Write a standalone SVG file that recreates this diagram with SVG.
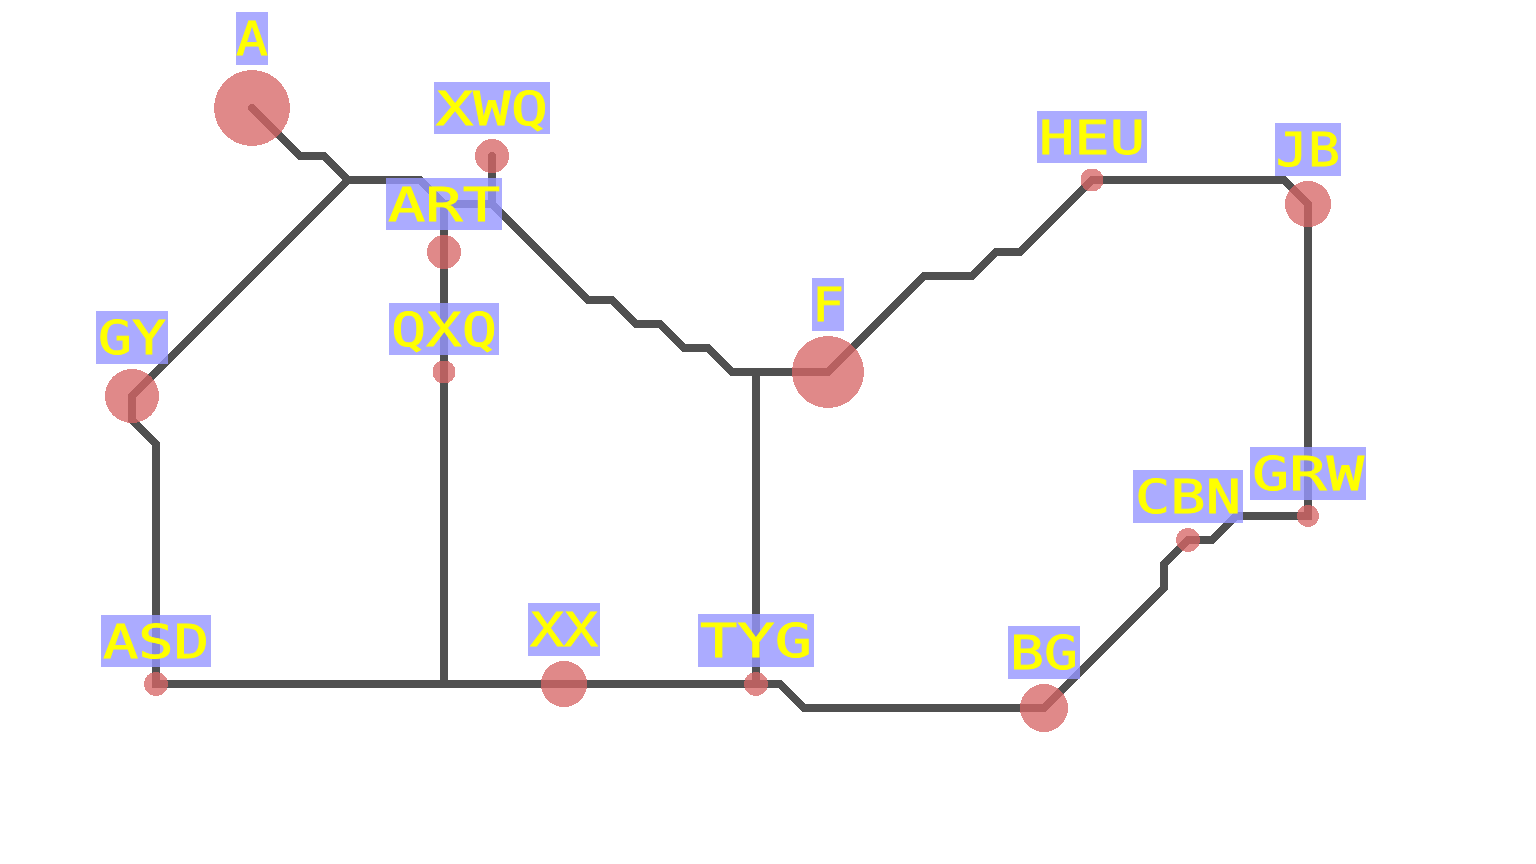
<svg xmlns="http://www.w3.org/2000/svg" width="1536" height="864" viewBox="0 0 1536 864">
<style>
.bg{fill:#fff}
#connectors path{fill:none;stroke:#505050;stroke-width:8;stroke-linecap:round;stroke-linejoin:miter;shape-rendering:crispEdges}
circle{fill:#d76565;fill-opacity:.77;shape-rendering:crispEdges}
rect.l{fill:#9696ff;fill-opacity:.8;shape-rendering:crispEdges}
text{font-family:"DejaVu Sans Mono","Liberation Mono",monospace;font-size:46px;fill:#ffff00;stroke:#ffff00;stroke-width:.8px}
</style>
<rect class="bg" width="1536" height="864"/>
<g id="connectors">
<path d="M252 108L300 156H324L348 180"/>
<path d="M132 396L348 180H420L444 204H492L588 300H612L636 324H660L684 348H708L732 372H828"/>
<path d="M492 156V204"/>
<path d="M444 204V684"/>
<path d="M756 372V684"/>
<path d="M828 372L924 276H972L996 252H1020L1092 180H1284L1308 204V516H1236L1212 540H1188L1164 564V588L1044 708H804L780 684H156V444L132 420V396"/>
</g>
<g id="A"><circle cx="252" cy="108" r="38"/><rect class="l" x="236" y="12" width="32" height="53"/><text x="236" y="55" textLength="32" lengthAdjust="spacingAndGlyphs">A</text></g>
<g id="XWQ"><circle cx="492" cy="156" r="17"/><rect class="l" x="434" y="82" width="116" height="52"/><text x="436" y="125" textLength="112" lengthAdjust="spacingAndGlyphs">XWQ</text></g>
<g id="ART"><circle cx="444" cy="252" r="17"/><rect class="l" x="386" y="178" width="116" height="52"/><text x="388" y="221" textLength="112" lengthAdjust="spacingAndGlyphs">ART</text></g>
<g id="QXQ"><circle cx="444" cy="372" r="11.5"/><rect class="l" x="389" y="303" width="110" height="52"/><text x="391" y="346" textLength="106" lengthAdjust="spacingAndGlyphs">QXQ</text></g>
<g id="GY"><circle cx="132" cy="396" r="27"/><rect class="l" x="96" y="311" width="72" height="53"/><text x="98" y="354" textLength="68" lengthAdjust="spacingAndGlyphs">GY</text></g>
<g id="F"><circle cx="828" cy="372" r="36"/><rect class="l" x="812" y="278" width="32" height="53"/><text x="812" y="321" textLength="32" lengthAdjust="spacingAndGlyphs">F</text></g>
<g id="HEU"><circle cx="1092" cy="180" r="11.5"/><rect class="l" x="1037" y="111" width="110" height="52"/><text x="1039" y="154" textLength="106" lengthAdjust="spacingAndGlyphs">HEU</text></g>
<g id="JB"><circle cx="1308" cy="204" r="23"/><rect class="l" x="1275" y="123" width="66" height="53"/><text x="1276" y="166" textLength="64" lengthAdjust="spacingAndGlyphs">JB</text></g>
<g id="GRW"><circle cx="1308" cy="516" r="11"/><rect class="l" x="1250" y="447" width="116" height="53"/><text x="1252" y="490" textLength="112" lengthAdjust="spacingAndGlyphs">GRW</text></g>
<g id="CBN"><circle cx="1188" cy="540" r="12"/><rect class="l" x="1133" y="470" width="110" height="53"/><text x="1135" y="513" textLength="106" lengthAdjust="spacingAndGlyphs">CBN</text></g>
<g id="ASD"><circle cx="156" cy="684" r="12"/><rect class="l" x="101" y="615" width="110" height="52"/><text x="103" y="658" textLength="106" lengthAdjust="spacingAndGlyphs">ASD</text></g>
<g id="XX"><circle cx="564" cy="684" r="23"/><rect class="l" x="528" y="603" width="72" height="53"/><text x="530" y="646" textLength="68" lengthAdjust="spacingAndGlyphs">XX</text></g>
<g id="TYG"><circle cx="756" cy="684" r="12"/><rect class="l" x="698" y="614" width="116" height="53"/><text x="700" y="657" textLength="112" lengthAdjust="spacingAndGlyphs">TYG</text></g>
<g id="BG"><circle cx="1044" cy="708" r="24"/><rect class="l" x="1008" y="626" width="72" height="53"/><text x="1010" y="669" textLength="68" lengthAdjust="spacingAndGlyphs">BG</text></g>
</svg>
